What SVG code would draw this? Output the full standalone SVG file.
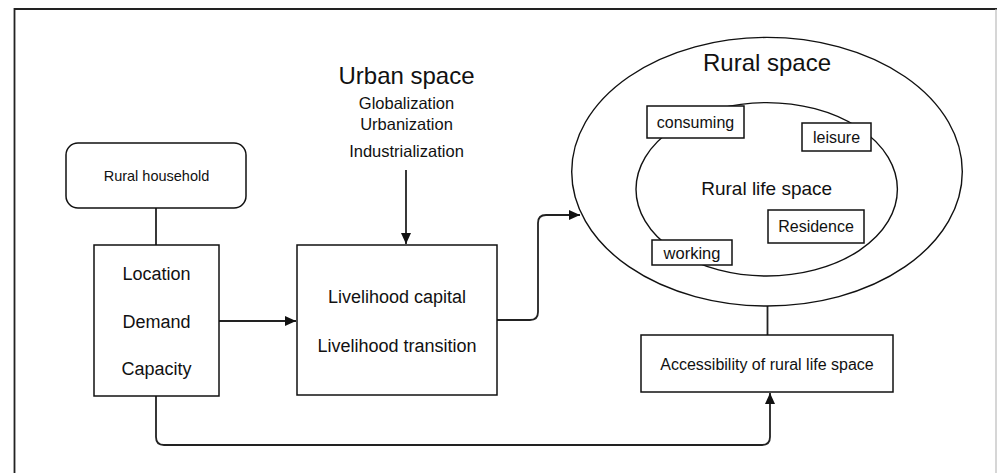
<svg xmlns="http://www.w3.org/2000/svg" width="997" height="473" viewBox="0 0 997 473">
<style>
text{font-family:"Liberation Sans",Arial,sans-serif;fill:#111;text-anchor:middle}
.box{fill:#fff;stroke:#111;stroke-width:1.5}
.ell{fill:none;stroke:#111;stroke-width:1.4}
.con{fill:none;stroke:#222;stroke-width:1.8}
</style>
<defs>
<marker id="ah" markerUnits="userSpaceOnUse" markerWidth="12" markerHeight="10" refX="11" refY="5" orient="auto">
<path d="M0,0 L11,5 L0,10 Z" fill="#111"/>
</marker>
</defs>
<rect width="997" height="473" fill="#fff"/>
<g id="frame">
<path d="M14.5,473 V9 H997" fill="none" stroke="#222" stroke-width="1.8"/>
<line x1="996" y1="9" x2="996" y2="473" stroke="#bbb" stroke-width="1.2"/>
</g>
<g id="connectors">
<line class="con" x1="156" y1="208" x2="156" y2="245"/>
<line class="con" x1="219" y1="321" x2="296" y2="321" marker-end="url(#ah)"/>
<line class="con" x1="406" y1="170" x2="406" y2="244" marker-end="url(#ah)"/>
<path class="con" d="M497,320 H530 Q538,320 538,312 V223 Q538,215 546,215 H580" marker-end="url(#ah)"/>
<line class="con" x1="767.5" y1="306" x2="767.5" y2="335"/>
<path class="con" d="M156,396 V437 Q156,445 164,445 H762 Q770,445 770,437 V393" marker-end="url(#ah)"/>
</g>
<g id="rural-household">
<rect class="box" x="66" y="143" width="180" height="65" rx="12"/>
<text x="156.5" y="181" font-size="14.5">Rural household</text>
</g>
<g id="factors">
<rect class="box" x="94" y="245" width="125" height="151"/>
<text x="156.5" y="280" font-size="18">Location</text>
<text x="156.5" y="327.5" font-size="18">Demand</text>
<text x="156.5" y="375" font-size="18">Capacity</text>
</g>
<g id="urban-space">
<text x="406.5" y="84" font-size="24">Urban space</text>
<text x="406.5" y="109" font-size="16.5">Globalization</text>
<text x="406.5" y="130" font-size="16.5">Urbanization</text>
<text x="406.5" y="157" font-size="16.5">Industrialization</text>
</g>
<g id="livelihood">
<rect class="box" x="297" y="245" width="200" height="150"/>
<text x="397" y="303" font-size="18">Livelihood capital</text>
<text x="397" y="351.5" font-size="18">Livelihood transition</text>
</g>
<g id="rural-space">
<ellipse class="ell" cx="767" cy="171.7" rx="195.3" ry="134.3"/>
<text x="767" y="71" font-size="24">Rural space</text>
</g>
<g id="rural-life-space">
<ellipse class="ell" cx="766.7" cy="189.3" rx="130.7" ry="86.7"/>
<text x="766.7" y="195" font-size="19">Rural life space</text>
</g>
<g id="consuming">
<rect class="box" x="647" y="106" width="97" height="32"/>
<text x="695.5" y="128" font-size="16">consuming</text>
</g>
<g id="leisure">
<rect class="box" x="802" y="123" width="69" height="28"/>
<text x="836.5" y="142.5" font-size="16">leisure</text>
</g>
<g id="residence">
<rect class="box" x="768" y="210" width="96" height="33"/>
<text x="816" y="232" font-size="16">Residence</text>
</g>
<g id="working">
<rect class="box" x="652" y="240" width="80" height="25"/>
<text x="692" y="258.5" font-size="16.5">working</text>
</g>
<g id="accessibility">
<rect class="box" x="641" y="335" width="252" height="57"/>
<text x="767" y="370" font-size="16">Accessibility of rural life space</text>
</g>
</svg>
